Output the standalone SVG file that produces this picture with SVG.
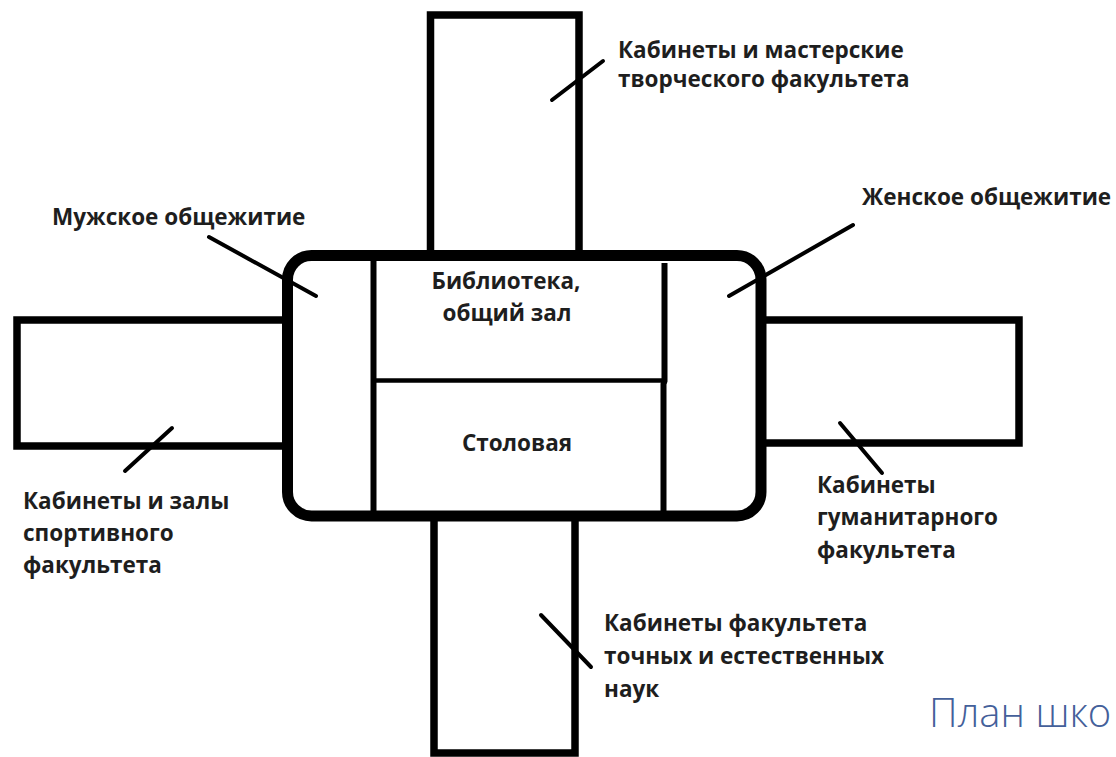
<svg xmlns="http://www.w3.org/2000/svg" width="1116" height="757" viewBox="0 0 1116 757">
  <style>
    .wing { fill: #ffffff; stroke: #000000; stroke-width: 7.5; }
    .core { fill: #ffffff; stroke: #000000; stroke-width: 11; }
    .div { stroke: #000000; fill: none; }
    .lbl { font-family: "Open Sans", "Liberation Sans", sans-serif; font-weight: 700; font-size: 22.5px; fill: #1e1e1e; }
    .ctr { text-anchor: middle; }
    .lead { stroke: #000000; stroke-width: 4; stroke-linecap: round; fill: none; }
    .title { font-family: "Open Sans", "Liberation Sans", sans-serif; font-weight: 300; font-size: 40px; fill: #44609a; }
  </style>
  <rect width="1116" height="757" fill="#ffffff"/>

  <g id="wing-top">
    <rect class="wing" x="430.5" y="15" width="148.5" height="245"/>
    <text class="lbl" x="618" y="58">Кабинеты и мастерские</text>
    <text class="lbl" x="618" y="87">творческого факультета</text>
  </g>
  <g id="wing-left">
    <rect class="wing" x="17" y="320" width="275" height="126"/>
    <text class="lbl" x="23" y="509">Кабинеты и залы</text>
    <text class="lbl" x="23" y="541">спортивного</text>
    <text class="lbl" x="23" y="573">факультета</text>
  </g>
  <g id="wing-right">
    <rect class="wing" x="756" y="320" width="263" height="123"/>
    <text class="lbl" x="817" y="493">Кабинеты</text>
    <text class="lbl" x="817" y="525">гуманитарного</text>
    <text class="lbl" x="817" y="558">факультета</text>
  </g>
  <g id="wing-bottom">
    <rect class="wing" x="434" y="510" width="141" height="243"/>
    <text class="lbl" x="604" y="631">Кабинеты факультета</text>
    <text class="lbl" x="604" y="664">точных и естественных</text>
    <text class="lbl" x="604" y="697">наук</text>
  </g>

  <g id="core">
    <rect class="core" x="287.5" y="255.5" width="473.5" height="260.5" rx="24" ry="24"/>
  </g>
  <g id="dorm-male">
    <line class="div" x1="373.5" y1="259" x2="373.5" y2="512" stroke-width="6"/>
    <text class="lbl" x="52" y="225">Мужское общежитие</text>
  </g>
  <g id="dorm-female">
    <polyline class="div" points="664.5,263 664.5,381 663.5,384 663.5,512" stroke-width="6"/>
    <text class="lbl" x="862" y="205">Женское общежитие</text>
  </g>
  <g id="library">
    <line class="div" x1="373" y1="380.5" x2="667" y2="380.5" stroke-width="4.5"/>
    <text class="lbl ctr" x="506" y="289">Библиотека,</text>
    <text class="lbl ctr" x="507" y="321">общий зал</text>
  </g>
  <g id="canteen">
    <text class="lbl ctr" x="517" y="451">Столовая</text>
  </g>

  <g id="connectors">
    <line class="lead" x1="552" y1="100" x2="603" y2="61"/>
    <line class="lead" x1="209" y1="237" x2="316" y2="296"/>
    <line class="lead" x1="853" y1="225" x2="729" y2="296"/>
    <line class="lead" x1="172" y1="428" x2="125" y2="471"/>
    <line class="lead" x1="840" y1="423" x2="882" y2="473"/>
    <line class="lead" x1="541" y1="615" x2="591" y2="667"/>
  </g>

  <g id="caption">
    <text class="title" x="929" y="727">План шко</text>
  </g>
</svg>
